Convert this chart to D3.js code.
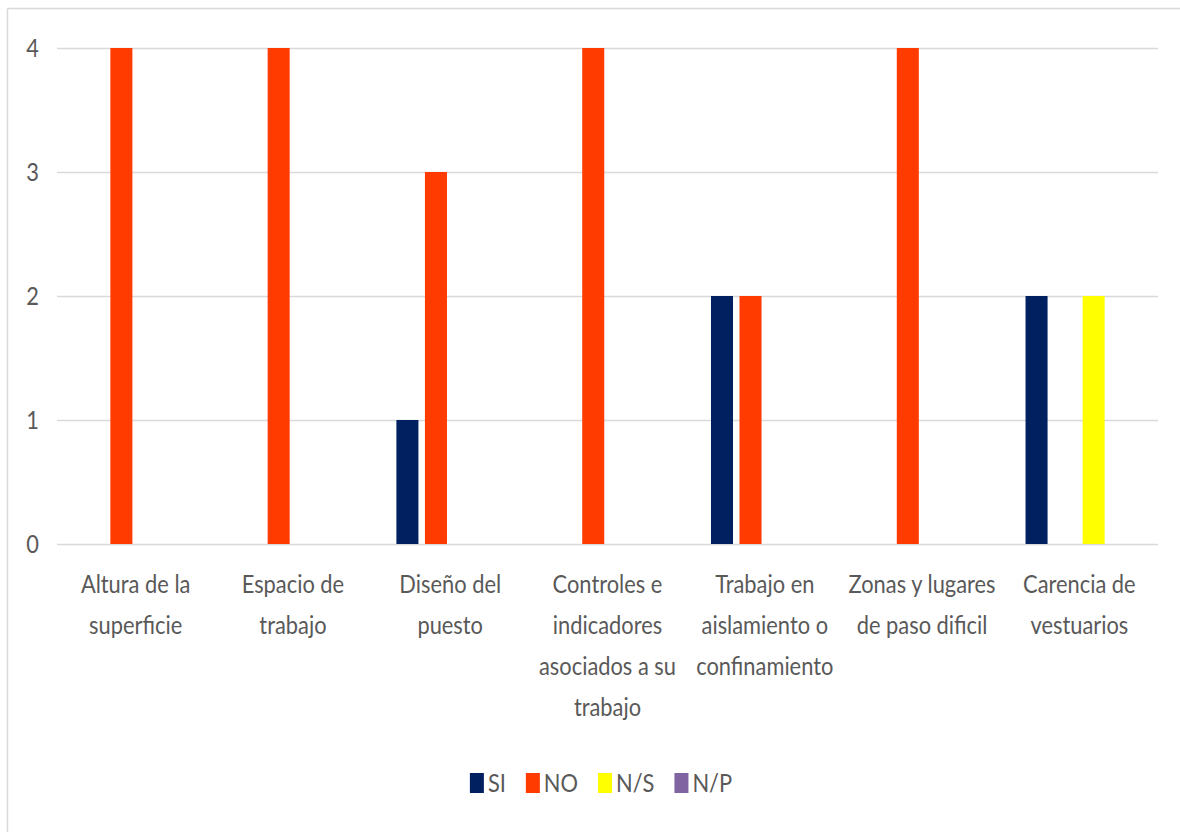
<!DOCTYPE html>
<html>
<head>
<meta charset="utf-8">
<script src="https://cdn.jsdelivr.net/npm/d3@7"></script>
<style>
  html, body { margin: 0; padding: 0; background: #ffffff; }
  svg { display: block; }
  text { font-family: Lato, "Liberation Sans", sans-serif; fill: #595959; }
</style>
</head>
<body>
<svg id="chart" width="1180" height="832"></svg>
<script>
// ---- data ----
const categories = [
  "Altura de la superficie",
  "Espacio de trabajo",
  "Diseño del puesto",
  "Controles e indicadores asociados a su trabajo",
  "Trabajo en aislamiento o confinamiento",
  "Zonas y lugares de paso dificil",
  "Carencia de vestuarios"
];
const categoryLines = [
  ["Altura de la", "superficie"],
  ["Espacio de", "trabajo"],
  ["Diseño del", "puesto"],
  ["Controles e", "indicadores", "asociados a su", "trabajo"],
  ["Trabajo en", "aislamiento o", "confinamiento"],
  ["Zonas y lugares", "de paso dificil"],
  ["Carencia de", "vestuarios"]
];
const seriesNames = ["SI", "NO", "N/S", "N/P"];
const valuesSI = [0, 0, 1, 0, 2, 0, 2];
const valuesNO = [4, 4, 3, 4, 2, 4, 0];
const valuesNS = [0, 0, 0, 0, 0, 0, 2];
const valuesNP = [0, 0, 0, 0, 0, 0, 0];
const seriesColors = ["#002060", "#FF3B00", "#FFFF00", "#8064A2"];
const yTicks = [0, 1, 2, 3, 4];

const seriesValues = [valuesSI, valuesNO, valuesNS, valuesNP];
const rows = categories.map((c, i) => ({
  cat: c,
  vals: seriesNames.map((s, k) => ({ series: s, value: seriesValues[k][i], color: seriesColors[k] }))
}));

// ---- layout ----
const svg = d3.select("#chart");
const plotLeft = 57, plotRight = 1158, plotTop = 48, plotBottom = 544;
const fontSize = 25;

// horizontal condensing factor so text matches the narrow look of the original
const probe = svg.append("text").attr("font-size", fontSize).text("Zonas y lugares");
const sx = 147 / probe.node().getComputedTextLength();
probe.remove();

// outer frame (top and left edges visible)
svg.append("line").attr("x1", 7.5).attr("x2", 1180).attr("y1", 8.5).attr("y2", 8.5)
  .attr("stroke", "#d9d9d9").attr("stroke-width", 1.5);
svg.append("line").attr("x1", 7.5).attr("x2", 7.5).attr("y1", 8.5).attr("y2", 832)
  .attr("stroke", "#d9d9d9").attr("stroke-width", 1.5);

const y = d3.scaleLinear().domain([0, 4]).range([plotBottom, plotTop]);
const x0 = d3.scaleBand().domain(categories).range([plotLeft, plotRight]).padding(0);
const x1 = d3.scaleBand().domain(seriesNames).range([0, x0.bandwidth()])
  .paddingInner(0.228).paddingOuter(0.87);

// gridlines
svg.append("g").selectAll("line").data(yTicks).join("line")
  .attr("x1", plotLeft).attr("x2", plotRight)
  .attr("y1", d => y(d) + 0.5).attr("y2", d => y(d) + 0.5)
  .attr("stroke", "#d9d9d9").attr("stroke-width", 1.5);

// y axis labels
const yAxis = d3.axisLeft(y).tickValues(yTicks).tickSize(0).tickPadding(0).tickFormat(d3.format("d"));
const gy = svg.append("g").attr("transform", `translate(39,0)`).call(yAxis);
gy.select(".domain").remove();
gy.selectAll("text").attr("font-size", fontSize).attr("fill", "#595959")
  .attr("transform", `scale(${sx},1)`)
  .style("font-family", 'Lato, "Liberation Sans", sans-serif');

// bars
const groups = svg.append("g").selectAll("g").data(rows).join("g")
  .attr("transform", d => `translate(${x0(d.cat)},0)`);
groups.selectAll("rect").data(d => d.vals.filter(v => v.value > 0)).join("rect")
  .attr("x", d => x1(d.series))
  .attr("width", x1.bandwidth())
  .attr("y", d => y(d.value))
  .attr("height", d => y(0) - y(d.value))
  .attr("fill", d => d.color);

// category labels
const lineGap = 41;
const labels = svg.append("g").selectAll("text").data(categories).join("text")
  .attr("text-anchor", "middle")
  .attr("font-size", fontSize)
  .attr("transform", d => `translate(${x0(d) + x0.bandwidth() / 2},593) scale(${sx},1)`);
labels.selectAll("tspan").data((d, i) => categoryLines[i]).join("tspan")
  .attr("x", 0)
  .attr("y", (d, i) => i * lineGap)
  .text(d => d);

// legend
const legend = svg.append("g");
const items = legend.selectAll("g").data(seriesNames).join("g");
items.append("rect").attr("width", 14).attr("height", 20).attr("y", -10)
  .attr("fill", (d, i) => seriesColors[i]);
items.append("text").attr("font-size", fontSize)
  .attr("transform", `translate(18,9) scale(${sx},1)`).text(d => d);
let cx = 0;
const gap = 20;
items.each(function () {
  const g = d3.select(this);
  const w = 18 + g.select("text").node().getComputedTextLength() * sx;
  g.attr("transform", `translate(${cx},0)`);
  cx += w + gap;
});
const totalW = cx - gap;
legend.attr("transform", `translate(${601 - totalW / 2},783)`);
</script>
</body>
</html>
